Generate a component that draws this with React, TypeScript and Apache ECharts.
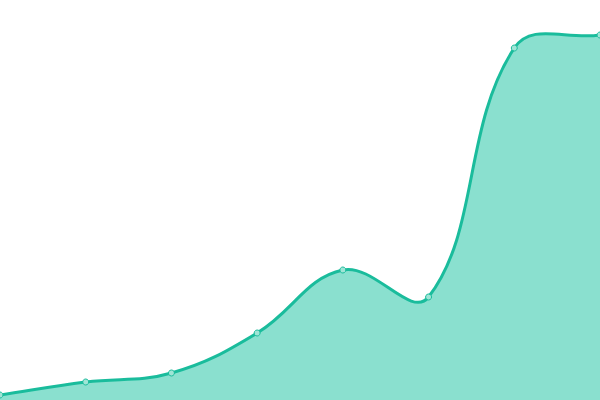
import { useEffect, useRef } from 'react';
import * as echarts from 'echarts';

const categories = ['1', '2', '3', '4', '5', '6', '7', '8'];
const values = [10, 36, 54, 134, 260, 206, 704, 730];

const LINE = '#1abc9c';
const FILL = '#8ae0cf';
const TENSION = 0.4;

// spline control points (same idea as chart.js splineCurve, no clamping to neighbours)
const buildPaths = (pts: number[][], bottom: number, w: number, h: number) => {
  const cps = pts.map((p, i) => {
    const prev = pts[i - 1] ?? p;
    const next = pts[i + 1] ?? p;
    const d01 = Math.hypot(p[0] - prev[0], p[1] - prev[1]);
    const d12 = Math.hypot(next[0] - p[0], next[1] - p[1]);
    const sum = d01 + d12 || 1;
    const fa = (TENSION * d01) / sum;
    const fb = (TENSION * d12) / sum;
    const clamp = (v: number, max: number) => Math.max(0, Math.min(max, v));
    return {
      inX: clamp(p[0] - fa * (next[0] - prev[0]), w),
      inY: clamp(p[1] - fa * (next[1] - prev[1]), h),
      outX: clamp(p[0] + fb * (next[0] - prev[0]), w),
      outY: clamp(p[1] + fb * (next[1] - prev[1]), h),
    };
  });
  let d = `M${pts[0][0]} ${pts[0][1]}`;
  for (let i = 1; i < pts.length; i++) {
    const a = cps[i - 1];
    const b = cps[i];
    d += ` C${a.outX} ${a.outY} ${b.inX} ${b.inY} ${pts[i][0]} ${pts[i][1]}`;
  }
  const last = pts[pts.length - 1];
  const area = `${d} L${last[0]} ${bottom} L${pts[0][0]} ${bottom} Z`;
  return { line: d, area };
};

const App = () => {
  const el = useRef<HTMLDivElement>(null);

  useEffect(() => {
    if (!el.current) return;
    const chart = echarts.init(el.current, undefined, { renderer: 'svg' });
    chart.setOption({
      animation: false,
      grid: { left: 0, right: 0, top: 0, bottom: 0 },
      xAxis: {
        type: 'category',
        data: categories,
        boundaryGap: false,
        show: false,
      },
      yAxis: { type: 'value', min: 0, max: 800, show: false },
      series: [
        {
          type: 'custom',
          data: values,
          renderItem: (params: any, api: any) => {
            if (params.dataIndex !== 0) return null;
            const pts = values.map((v, i) => api.coord([i, v]));
            const bottom = api.coord([0, 0])[1];
            const { line, area } = buildPaths(
              pts,
              bottom,
              params.coordSys.x + params.coordSys.width,
              params.coordSys.y + params.coordSys.height
            );
            return {
              type: 'group',
              children: [
                { type: 'path', shape: { pathData: area }, style: { fill: FILL, stroke: 'none' } },
                {
                  type: 'path',
                  shape: { pathData: line },
                  style: { fill: 'none', stroke: LINE, lineWidth: 3 },
                },
              ],
            };
          },
        },
        {
          type: 'line',
          data: values,
          symbol: 'circle',
          symbolSize: 6,
          lineStyle: { width: 0, opacity: 0 },
          itemStyle: { color: '#9fe5d6', borderColor: LINE, borderWidth: 1 },
          z: 3,
        },
      ],
    });
    return () => chart.dispose();
  }, []);

  return (
    <div
      ref={el}
      style={{ position: 'fixed', left: 0, top: 0, width: 600, height: 400, background: '#fff' }}
    />
  );
};

export default App;
